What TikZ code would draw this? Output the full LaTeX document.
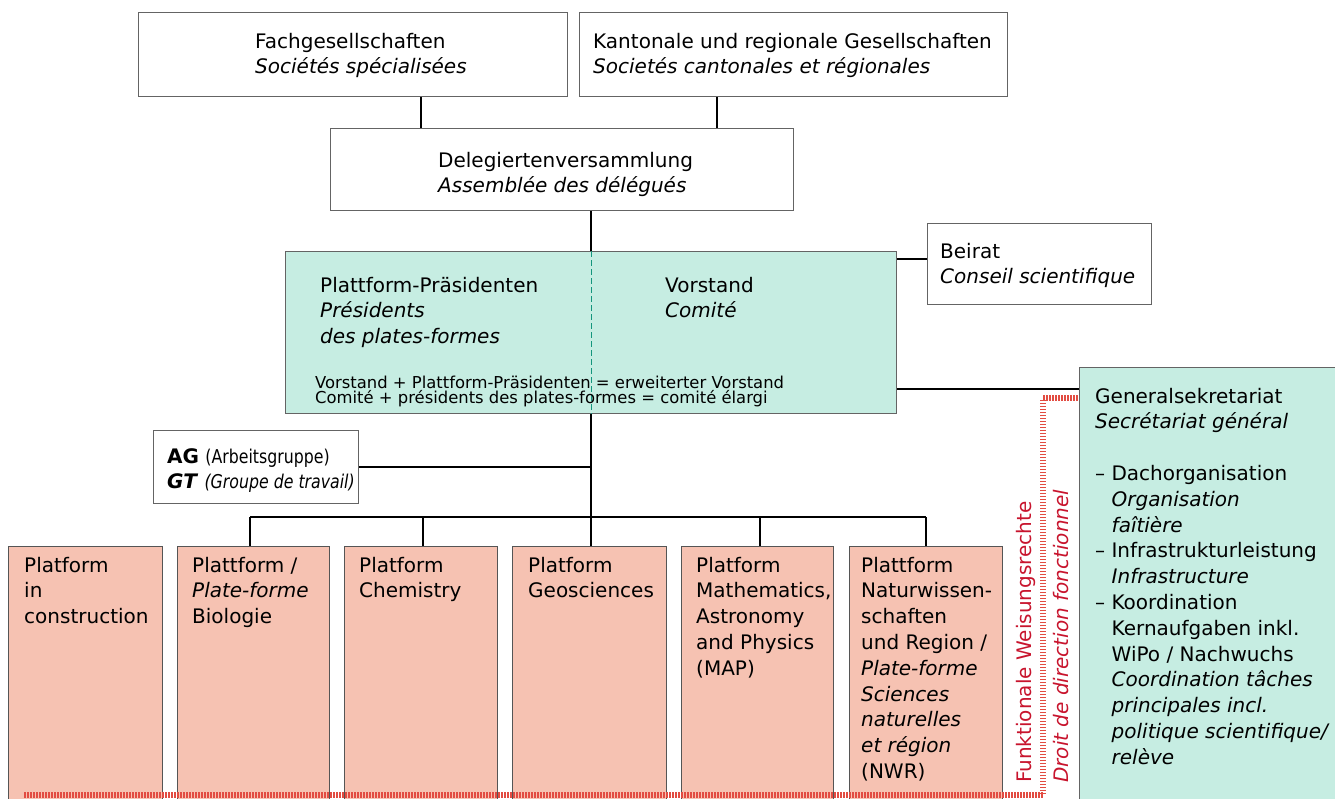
\documentclass[tikz,border=0pt]{standalone}
\usepackage{fontspec}
\setmainfont{DejaVu Sans}
\newfontfamily\condfam[FakeStretch=0.83]{DejaVu Sans}
\usetikzlibrary{calc}
\definecolor{mint}{RGB}{198,237,226}
\definecolor{salmon}{RGB}{246,194,178}
\definecolor{bgray}{RGB}{100,100,100}
\definecolor{pgray}{RGB}{85,85,85}
\definecolor{dotred}{RGB}{226,76,66}
\definecolor{txtred}{RGB}{200,20,45}
\definecolor{tealc}{RGB}{20,150,125}
\newcommand{\Tx}[1]{\parbox[t]{460pt}{\raggedright\fontsize{20}{25.8}\selectfont #1}}
\newcommand{\Tsm}[1]{\parbox[t]{560pt}{\raggedright\fontsize{16.4}{15.5}\selectfont #1}}
\newcommand{\ind}{\hspace*{16.5pt}}
\tikzset{
  box/.style={draw=bgray, line width=1.1pt, fill=white, inner sep=0pt, anchor=north west},
  gbox/.style={box, fill=mint},
  plat/.style={box, fill=salmon, draw=pgray, line width=1.3pt},
  txt/.style={inner sep=0pt, anchor=base west},
  conn/.style={line width=1.2pt, black},
  tealdash/.style={line width=1pt, tealc, dash pattern=on 6pt off 3pt},
  reddot/.style={draw=dotred, line width=5.5pt, dash pattern=on 1.5pt off 1.5pt},
  rtxt/.style={inner sep=0pt, anchor=base west, rotate=90, text=txtred, font=\fontsize{20}{24}\selectfont},
}
\begin{document}
\begin{tikzpicture}[x=1pt,y=-1pt]
\useasboundingbox (0,0) rectangle (1335,798);
\fill[white] (0,0) rectangle (1335,798);
\clip (0,0) rectangle (1335,798);

% boxes
\node[box, minimum width=429pt, minimum height=84pt] (fach) at (138,12) {};
\node[box, minimum width=428pt, minimum height=84pt] (kant) at (579,12) {};
\node[box, minimum width=463pt, minimum height=82pt] (deleg) at (330,128) {};
\node[gbox, minimum width=611pt, minimum height=162pt] (vor) at (285,251) {};
\node[box, minimum width=224pt, minimum height=81pt] (beirat) at (927,223) {};
\node[gbox, minimum width=270pt, minimum height=450pt] (gs) at (1079,367) {};
\node[box, minimum width=205pt, minimum height=73pt] (ag) at (153,430) {};
\node[plat, minimum width=154pt, minimum height=270pt] (p1) at (8,546) {};
\node[plat, minimum width=152pt, minimum height=270pt] (p2) at (177,546) {};
\node[plat, minimum width=153pt, minimum height=270pt] (p3) at (344,546) {};
\node[plat, minimum width=154pt, minimum height=270pt] (p4) at (512,546) {};
\node[plat, minimum width=152pt, minimum height=270pt] (p5) at (681,546) {};
\node[plat, minimum width=153pt, minimum height=270pt] (p6) at (849,546) {};

% helper coordinates
\coordinate (cf) at (421,0);
\coordinate (ck) at (717,0);
\coordinate (mx) at (591,0);
\coordinate (yb) at (0,259);
\coordinate (yg) at (0,389);
\coordinate (bus) at (0,517);
\coordinate (d2) at (250,0);
\coordinate (d3) at (423,0);
\coordinate (d5) at (760,0);
\coordinate (d6) at (926,0);

% connectors
\draw[conn] (cf |- fach.south) -- (cf |- deleg.north);
\draw[conn] (ck |- kant.south) -- (ck |- deleg.north);
\draw[conn] (mx |- deleg.south) -- (mx |- vor.north);
\draw[tealdash] (mx |- vor.north) -- (mx |- vor.south);
\draw[conn] (mx |- vor.south) -- (mx |- p4.north);
\draw[conn] (vor.east |- yb) -- (beirat.west |- yb);
\draw[conn] (vor.east |- yg) -- (gs.west |- yg);
\draw[conn] (ag.east) -- (mx |- ag.east);
\draw[conn] (d2 |- bus) -- (d6 |- bus);
\draw[conn] (d2 |- bus) -- (d2 |- p2.north);
\draw[conn] (d3 |- bus) -- (d3 |- p3.north);
\draw[conn] (d5 |- bus) -- (d5 |- p5.north);
\draw[conn] (d6 |- bus) -- (d6 |- p6.north);

% red dotted line
\coordinate (rdA) at (24,795);
\coordinate (rdB) at (1043,795);
\coordinate (rdC) at (1043,398);
\draw[reddot] (rdA) -- (rdB) -- (rdC) -- (gs.west |- rdC);

% texts
\node[txt] (fachT) at (255,48) {\Tx{Fachgesellschaften\\\textit{Sociétés spécialisées}}};
\node[txt] (kantT) at (593,48) {\Tx{Kantonale und regionale Gesellschaften\\\textit{Societés cantonales et régionales}}};
\node[txt] (delegT) at (438,167) {\Tx{Delegiertenversammlung\\\textit{Assemblée des délégués}}};
\node[txt] (ppT) at (320,292) {\Tx{Plattform-Präsidenten\\\textit{Présidents}\\\textit{des plates-formes}}};
\node[txt] (vorT) at (665,292) {\Tx{Vorstand\\\textit{Comité}}};
\node[txt] (smT) at (315,388) {\Tsm{Vorstand + Plattform-Präsidenten = erweiterter Vorstand\\Comité + présidents des plates-formes = comité élargi}};
\node[txt] (beiratT) at (940,258) {\Tx{Beirat\\\textit{Conseil scientifique}}};
\node[txt] (agT) at (167,463) {\Tx{\textbf{AG} {\condfam\fontsize{19}{25.8}\selectfont (Arbeitsgruppe)}\\\textbf{\textit{GT}} {\condfam\fontsize{19}{25.8}\selectfont\itshape (Groupe de travail)}}};
\node[txt] (gsT) at (1095,403) {\Tx{Generalsekretariat\\\textit{Secrétariat général}\\[25.8pt]
–\ Dachorganisation\\\ind\textit{Organisation}\\\ind\textit{faîtière}\\
–\ Infrastrukturleistung\\\ind\textit{Infrastructure}\\
–\ Koordination\\\ind Kernaufgaben inkl.\\\ind WiPo / Nachwuchs\\\ind\textit{Coordination tâches}\\\ind\textit{principales incl.}\\\ind\textit{politique scientifique/}\\\ind\textit{relève}}};
\node[txt] (p1T) at (24,572) {\Tx{Platform\\in\\construction}};
\node[txt] (p2T) at (192,572) {\Tx{Plattform /\\\textit{Plate-forme}\\Biologie}};
\node[txt] (p3T) at (359,572) {\Tx{Platform\\Chemistry}};
\node[txt] (p4T) at (528,572) {\Tx{Platform\\Geosciences}};
\node[txt] (p5T) at (696,572) {\Tx{Platform\\Mathematics,\\Astronomy\\and Physics\\(MAP)}};
\node[txt] (p6T) at (861,572) {\Tx{Plattform\\Naturwissen-\\schaften\\und Region /\\\textit{Plate-forme}\\\textit{Sciences}\\\textit{naturelles}\\\textit{et région}\\(NWR)}};
\node[rtxt] (fwT) at (1031,783) {Funktionale Weisungsrechte};
\node[rtxt] (drT) at (1068,783) {\itshape Droit de direction fonctionnel};
\end{tikzpicture}
\end{document}
